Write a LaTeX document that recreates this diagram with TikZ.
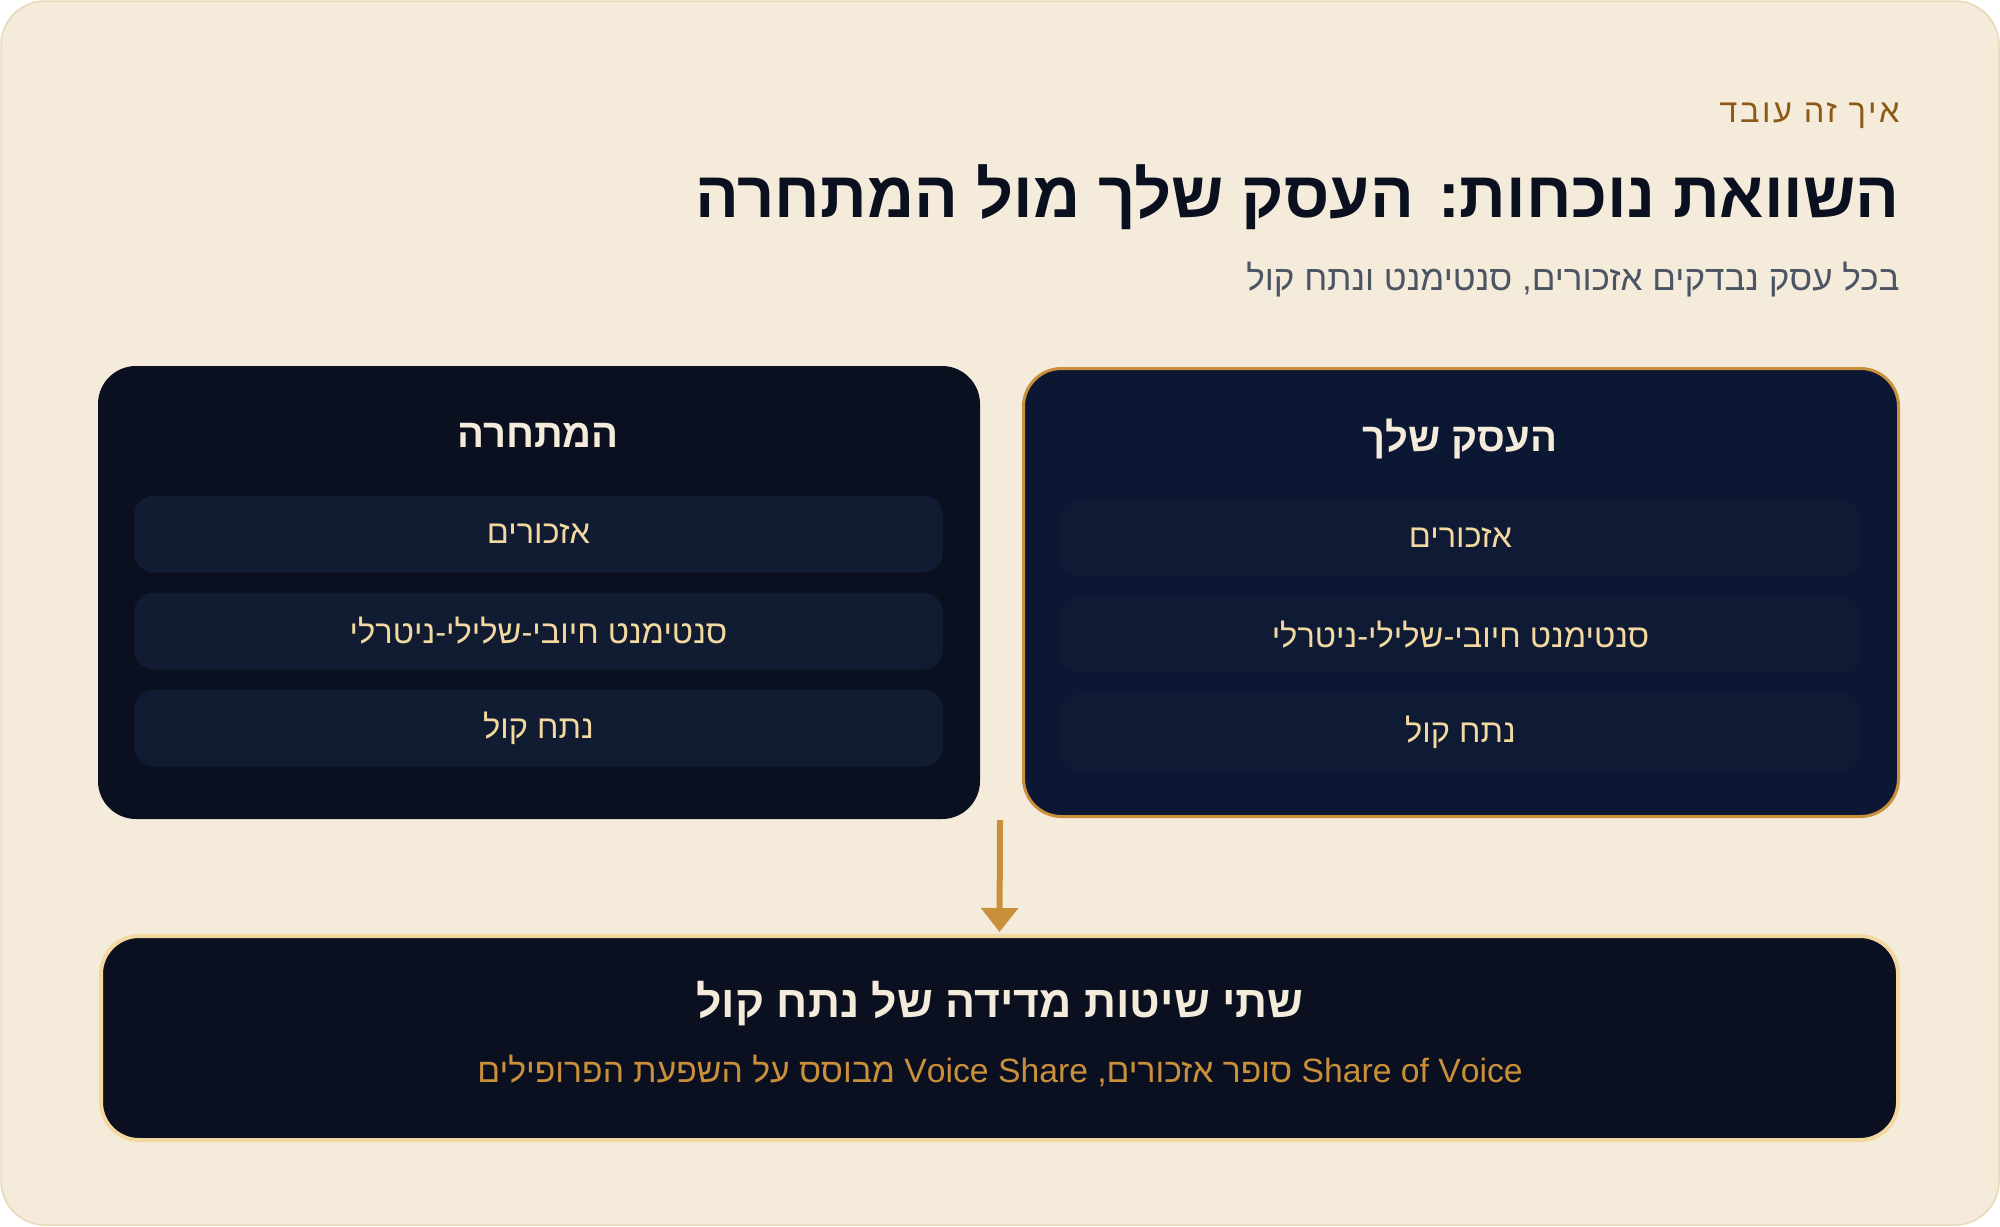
\documentclass[tikz,border=0pt]{standalone}
\usepackage{fontspec}
\setmainfont[Script=Hebrew]{Liberation Sans}
\newfontfamily\spacedfont[Script=Hebrew,LetterSpace=8]{Liberation Sans}
\TeXXeTstate=1
\usetikzlibrary{arrows.meta,positioning}
\definecolor{bgcream}{HTML}{F5EBDA}
\definecolor{bgline}{HTML}{E6DAB8}
\definecolor{inkdark}{HTML}{0A1020}
\definecolor{paneldark}{HTML}{0A1020}
\definecolor{panelblue}{HTML}{0C1833}
\definecolor{rowfill}{HTML}{111C33}
\definecolor{rowfillb}{HTML}{0F1B35}
\definecolor{accent}{HTML}{C98F3A}
\definecolor{goldtext}{HTML}{F3D9A0}
\definecolor{creamtext}{HTML}{F5EBDA}
\definecolor{greytext}{HTML}{4B5563}
\definecolor{browntext}{HTML}{8B5A14}
\tikzstyle{panel} = [rectangle, rounded corners=19pt, inner sep=0pt]
\tikzstyle{paneltitle} = [text=creamtext, font=\bfseries\fontsize{20}{24}\selectfont, inner sep=0pt]
\tikzstyle{rowbox} = [rectangle, rounded corners=10pt, inner sep=0pt, minimum height=38.5pt,
  text=goldtext, font=\fontsize{16.3}{19}\selectfont]
\tikzstyle{arrow} = [line width=3pt, draw=accent, -{Triangle[width=18pt,length=12pt]}]

\begin{document}
\begin{tikzpicture}[x=0.5pt,y=-0.5pt]
    \useasboundingbox (0,0) rectangle (2000,1226);
    \path[fill=bgcream, draw=bgline, line width=0.75pt, rounded corners=22pt] (1,1) rectangle (1999,1225);

    % heading
    \node[anchor=base east, inner sep=0pt, text=browntext, font=\spacedfont\fontsize{16.3}{19}\selectfont]
        (kicker) at (1900,122) {\beginR איך זה עובד\endR};
    \node[anchor=base east, inner sep=0pt, text=inkdark, font=\bfseries\fontsize{32.5}{38}\selectfont]
        (title) at (1900,217) {\beginR השוואת נוכחות: העסק שלך מול המתחרה\endR};
    \node[anchor=base east, inner sep=0pt, text=greytext, font=\fontsize{17.5}{21}\selectfont]
        (subtitle) at (1900,290) {\beginR בכל עסק נבדקים אזכורים, סנטימנט ונתח קול\endR};

    % competitor
    \node[panel, fill=paneldark, minimum width=441pt, minimum height=226.5pt] (rival) at (539,592.5) {};
    \node[paneltitle] (rivaltitle) at (538,435) {\beginR המתחרה\endR};
    \node[rowbox, fill=rowfill, minimum width=404.5pt] (rival1) at (538.5,534) {\beginR אזכורים\endR};
    \node[rowbox, fill=rowfill, minimum width=404.5pt] (rival2) at (538.5,631) {\beginR סנטימנט חיובי-שלילי-ניטרלי\endR};
    \node[rowbox, fill=rowfill, minimum width=404.5pt] (rival3) at (538.5,728) {\beginR נתח קול\endR};

    % your business
    \node[panel, fill=panelblue, draw=accent, line width=1.5pt, minimum width=437.5pt, minimum height=224pt]
        (own) at (1461,592.5) {};
    \node[paneltitle] (owntitle) at (1460,439) {\beginR העסק שלך\endR};
    \node[rowbox, fill=rowfillb, minimum width=400.5pt] (own1) at (1460.5,538) {\beginR אזכורים\endR};
    \node[rowbox, fill=rowfillb, minimum width=400.5pt] (own2) at (1460.5,635) {\beginR סנטימנט חיובי-שלילי-ניטרלי\endR};
    \node[rowbox, fill=rowfillb, minimum width=400.5pt] (own3) at (1460.5,732) {\beginR נתח קול\endR};

    % summary
    \node[panel, fill=paneldark, draw=goldtext, line width=2pt, minimum width=898.5pt, minimum height=102pt]
        (summary) at (999.5,1038) {};
    \node[text=creamtext, font=\bfseries\fontsize{22.3}{26}\selectfont, inner sep=0pt]
        (summarytitle) at (1000,1004) {\beginR שתי שיטות מדידה של נתח קול\endR};
    \node[text=accent, font=\fontsize{16.85}{20}\selectfont, inner sep=0pt]
        (summarytext) at (1000,1071) {\beginR \beginL Share of Voice\endL{} סופר אזכורים, \beginL Voice Share\endL{} מבוסס על השפעת הפרופילים\endR};

    \coordinate (gap) at (1000,820);
    \draw[arrow, shorten >=1pt] (gap) -- (summary.north);
\end{tikzpicture}
\end{document}
